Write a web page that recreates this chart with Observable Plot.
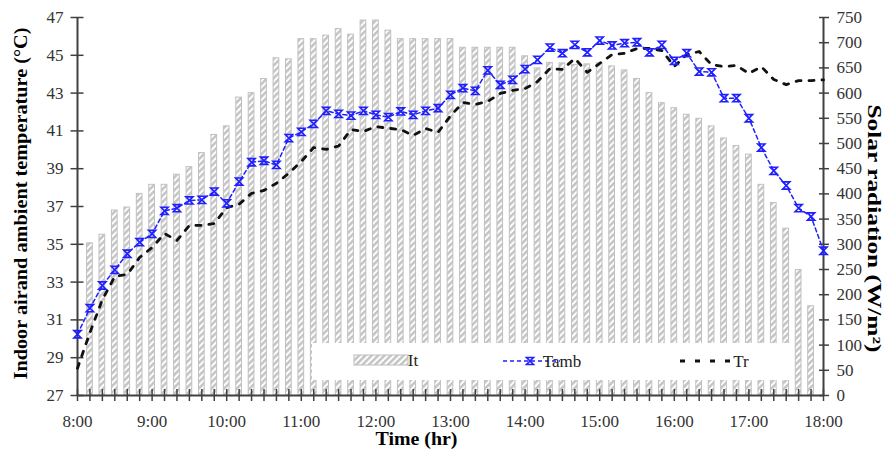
<!DOCTYPE html>
<html><head><meta charset="utf-8">
<script src="https://cdn.jsdelivr.net/npm/d3@7"></script>
<script src="https://cdn.jsdelivr.net/npm/@observablehq/plot@0.6"></script>
<style>
body{margin:0;background:#fff;}
#chart{width:886px;height:454px;}
</style></head><body><div id="chart"></div>
<script>
// ---- data ----
const times = ["8:00","8:10","8:20","8:30","8:40","8:50","9:00","9:10","9:20","9:30","9:40","9:50",
"10:00","10:10","10:20","10:30","10:40","10:50","11:00","11:10","11:20","11:30","11:40","11:50",
"12:00","12:10","12:20","12:30","12:40","12:50","13:00","13:10","13:20","13:30","13:40","13:50",
"14:00","14:10","14:20","14:30","14:40","14:50","15:00","15:10","15:20","15:30","15:40","15:50",
"16:00","16:10","16:20","16:30","16:40","16:50","17:00","17:10","17:20","17:30","17:40","17:50","18:00"];
const radiation = [null,302,319,367,373,400,418,418,438,453,481,517,
534,591,600,628,669,667,707,707,714,727,716,744,
744,724,707,707,707,707,707,690,690,690,690,690,
673,649,660,659,656,657,659,653,645,628,600,580,
570,557,549,534,510,495,478,418,382,331,249,177,null];
const tamb = [30.24,31.62,32.82,33.65,34.5,35.11,35.55,36.77,36.91,37.32,37.35,37.79,
37.17,38.32,39.34,39.42,39.2,40.62,40.95,41.37,42.06,41.9,41.81,42.06,
41.85,41.73,42.03,41.85,42.06,42.2,42.91,43.26,43.12,44.2,43.44,43.7,
44.27,44.76,45.41,45.11,45.55,45.16,45.78,45.52,45.64,45.69,45.16,45.55,
44.71,45.11,44.14,44.1,42.73,42.73,41.67,40.12,38.89,38.11,36.91,36.47,34.66];
const tr = [28.44,30.33,32.07,33.3,33.4,34.3,34.83,35.57,35.2,36.0,36.0,36.1,
36.94,37.12,37.7,37.85,38.23,38.76,39.38,40.12,40.02,40.2,41.07,40.97,
41.23,41.14,41.07,40.76,41.13,40.92,41.8,42.5,42.4,42.56,42.98,43.14,
43.24,43.61,44.3,44.25,44.83,44.1,44.57,45.04,45.1,45.36,45.36,45.25,
44.41,45.04,45.2,44.5,44.4,44.46,44.04,44.4,43.72,43.45,43.66,43.66,43.7];
const leftTicks = [27,29,31,33,35,37,39,41,43,45,47];
const rightTicks = [0,50,100,150,200,250,300,350,400,450,500,550,600,650,700,750];
const hourLabels = ["8:00","9:00","10:00","11:00","12:00","13:00","14:00","15:00","16:00","17:00","18:00"];
const seriesNames = ["It","Tamb","Tr"];
const leftTitle = "Indoor airand ambient temperature (°C)";
const rightTitle = "Solar radiation (W/m²)";
const xTitle = "Time (hr)";

// ---- helpers ----
const toMin = s => { const [h, m] = s.split(":").map(Number); return (h - 8) * 60 + m; };
const Y0 = 27, Y1 = 47, R1 = 750;
const radToY = r => Y0 + r * (Y1 - Y0) / R1;
const yToRad = v => Math.round((v - Y0) * R1 / (Y1 - Y0));

const rows = times.map((t, i) => ({t: toMin(t), rad: radiation[i], tamb: tamb[i], tr: tr[i]}));
const barRows = rows.filter(d => d.rad != null);
const minorTicks = times.map(toMin);
const hourTicks = hourLabels.map(toMin);
const rightPos = rightTicks.map(radToY);

const hourglass = {
  draw(ctx, size) {
    const r = Math.sqrt(size / Math.PI);
    ctx.moveTo(-r, -r); ctx.lineTo(r, -r); ctx.lineTo(-r, r); ctx.lineTo(r, r); ctx.closePath();
  }
};

const AX = "#404040";
const BLUE = "#1f1fff";

const svg = Plot.plot({
  width: 886, height: 454,
  marginLeft: 77, marginRight: 63, marginTop: 17, marginBottom: 59,
  x: {type: "linear", domain: [0, 600]},
  y: {type: "linear", domain: [Y0, Y1]},
  style: {fontFamily: "'Liberation Serif','Times New Roman',serif", background: "#fff", color: "#333"},
  marks: [
    Plot.rect(barRows, {x1: d => d.t - 2.3, x2: d => d.t + 2.3, y1: Y0, y2: d => radToY(d.rad),
      fill: "url(#hatch)", stroke: "#c0c0c0", strokeWidth: 1}),
    // axis lines
    Plot.ruleX([0, 600], {stroke: AX, strokeWidth: 2}),
    Plot.ruleY([Y0], {stroke: AX, strokeWidth: 2}),
    // ticks crossing the axes
    Plot.axisY(leftTicks, {anchor: "left", tickSize: 13, dx: 6.5, fill: "none", stroke: AX, strokeWidth: 1.5, label: null}),
    Plot.axisY(leftTicks, {anchor: "left", tickSize: 0, tickPadding: 14, fontSize: 17, fill: "#333", label: null}),
    Plot.axisY(rightPos, {anchor: "right", tickSize: 10, dx: -5, fill: "none", stroke: AX, strokeWidth: 1.5, label: null}),
    Plot.axisY(rightPos, {anchor: "right", tickSize: 0, tickPadding: 13, fontSize: 17, fill: "#333", tickFormat: yToRad, label: null}),
    Plot.axisX(minorTicks, {anchor: "bottom", tickSize: 12, dy: -6, fill: "none", stroke: AX, strokeWidth: 1.5, label: null}),
    Plot.axisX(hourTicks, {anchor: "bottom", tickSize: 0, tickPadding: 19, fontSize: 17, fill: "#333",
      tickFormat: d => hourLabels[hourTicks.indexOf(d)], label: null}),
    // series
    Plot.line(rows, {x: "t", y: "tr", stroke: "#111", strokeWidth: 2.8, strokeDasharray: "5,8"}),
    Plot.line(rows, {x: "t", y: "tamb", stroke: BLUE, strokeWidth: 1.5, strokeDasharray: "4,3"}),
    Plot.dot(rows, {x: "t", y: "tamb", symbol: hourglass, r: 3.6, stroke: BLUE, strokeWidth: 1.6, fill: "none"}),
    // titles
    Plot.text([leftTitle], {text: d => d, frameAnchor: "left", textAnchor: "middle", rotate: -90, dx: -57, dy: -3,
      fontSize: 19, fontWeight: "bold", fill: "#000", className: "ttl-left"}),
    Plot.text([rightTitle], {text: d => d, frameAnchor: "right", textAnchor: "middle", rotate: 90, dx: 50, dy: 22,
      fontSize: 18, fontWeight: "bold", fill: "#000", className: "ttl-right"}),
    Plot.text([xTitle], {text: d => d, frameAnchor: "bottom", textAnchor: "middle", dx: -34, dy: 49,
      fontSize: 19, fontWeight: "bold", fill: "#000", className: "ttl-x"})
  ]
});

const s = d3.select(svg);
// hatch pattern
const defs = s.insert("defs", ":first-child");
const pat = defs.append("pattern").attr("id", "hatch").attr("patternUnits", "userSpaceOnUse")
  .attr("width", 4.5).attr("height", 4.5).attr("patternTransform", "rotate(45)");
pat.append("rect").attr("width", 4.5).attr("height", 4.5).attr("fill", "#fff");
pat.append("line").attr("x1", 1.2).attr("y1", 0).attr("x2", 1.2).attr("y2", 4.5)
  .attr("stroke", "#c4c4c4").attr("stroke-width", 2.6);

// fit the titles to the reference's extents
s.selectAll(".ttl-left text").attr("textLength", 352).attr("lengthAdjust", "spacingAndGlyphs");
s.selectAll(".ttl-right text").attr("textLength", 248).attr("lengthAdjust", "spacingAndGlyphs");
s.selectAll(".ttl-x text").attr("textLength", 82).attr("lengthAdjust", "spacingAndGlyphs");

// legend
const lg = s.append("g").attr("font-family", "'Liberation Serif','Times New Roman',serif").attr("font-size", 17);
lg.append("rect").attr("x", 312).attr("y", 343).attr("width", 478).attr("height", 37).attr("fill", "#fff");
lg.append("rect").attr("x", 354).attr("y", 355).attr("width", 54).attr("height", 10)
  .attr("fill", "url(#hatch)").attr("stroke", "#bdbdbd");
lg.append("text").attr("x", 413).attr("y", 366).attr("fill", "#222").text(seriesNames[0]);
lg.append("line").attr("x1", 503).attr("x2", 560).attr("y1", 361).attr("y2", 361)
  .attr("stroke", BLUE).attr("stroke-width", 1.5).attr("stroke-dasharray", "4,3");
lg.append("path").attr("d", "M526.5,357.5L533.5,357.5L526.5,364.5L533.5,364.5Z")
  .attr("stroke", BLUE).attr("stroke-width", 1.6).attr("fill", "none");
lg.append("text").attr("x", 562).attr("y", 367).attr("fill", "#222").text(seriesNames[1]);
lg.append("line").attr("x1", 680).attr("x2", 738).attr("y1", 361).attr("y2", 361)
  .attr("stroke", "#111").attr("stroke-width", 2.8).attr("stroke-dasharray", "5,10");
lg.append("text").attr("x", 741).attr("y", 367).attr("fill", "#222").text(seriesNames[2]);

document.getElementById("chart").appendChild(svg);
</script></body></html>
